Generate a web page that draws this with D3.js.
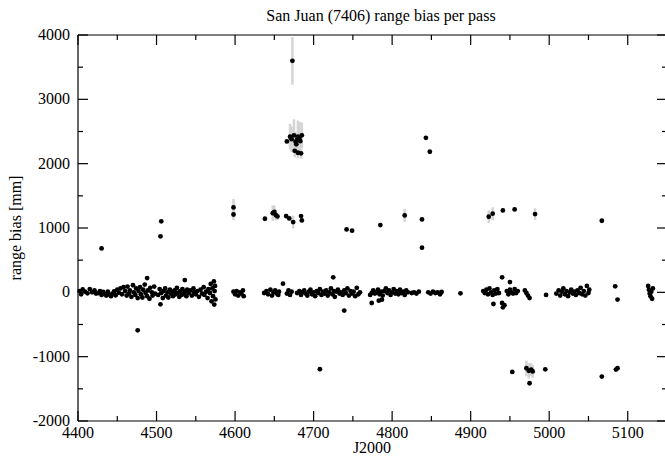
<!DOCTYPE html>
<html lang="en">
<head>
<meta charset="utf-8">
<title>San Juan range bias</title>
<script src="https://d3js.org/d3.v7.min.js"></script>
<style>
  body { margin: 0; background: #fff; }
  svg text { font-family: "Liberation Serif", "Times New Roman", serif; fill: #000; }
  .frame line { stroke: #000; stroke-width: 1.2px; }
  .bar { stroke: #d4d4d4; stroke-width: 2.5px; }
  .pt { fill: #000; }
</style>
</head>
<body>
<script>
const w = 665, h = 459;
const plotLeft = 78, plotRight = 667, plotTop = 35, plotBottom = 421;

const chartTitle = "San Juan (7406) range bias per pass";
const xLabel = "J2000";
const yLabel = "range bias [mm]";
const xTicks = [4400, 4500, 4600, 4700, 4800, 4900, 5000, 5100];
const yTicks = [-2000, -1000, 0, 1000, 2000, 3000, 4000];

// passes near zero: [J2000 day, bias mm]
const bandA = [[4402,20],[4404,-30],[4406,45],[4409,10],[4412,-15],[4415,50],[4418,0],[4421,30],[4423,-20],
  [4426,-10],[4428,20],[4430,-40],[4432,5],[4434,-25],[4436,-50],[4438,10],[4440,-35],[4442,-60],[4444,-20],
  [4446,15],[4448,-45],[4450,40],[4452,-5],[4454,60],[4456,-30],[4458,80],[4460,20],[4462,-50],[4463,90],
  [4465,-20],[4466,30],[4468,-70],[4470,110],[4471,0],[4473,-40],[4474,60],[4476,-90],[4477,20],[4479,80],
  [4480,-30],[4482,-80],[4483,40],[4485,120],[4486,-10],[4488,-60],[4489,30],[4491,-100],[4492,70],[4494,0],
  [4495,-50],[4497,90],[4498,-20],[4502,-40],[4504,50],[4506,-10],[4508,-90],[4509,20],[4511,60],[4512,-50],
  [4514,0],[4515,-80],[4517,40],[4518,-20],[4520,10],[4521,-60],[4523,30],[4524,-30],[4526,70],[4527,-10],
  [4529,-70],[4530,20],[4532,-40],[4533,50],[4535,-20],[4536,10],[4538,-60],[4539,40],[4541,-10],[4543,30],
  [4545,-50],[4547,60],[4548,0],[4550,-30],[4552,20],[4554,-70],[4556,40],[4558,-20],[4560,80],[4561,-40],
  [4563,10],[4565,-90],[4566,50],[4568,-10],[4569,130],[4570,-140],[4571,60],[4572,-60],[4573,170],
  [4573.5,-190],[4574,20],[4574.5,100],[4575,-110]];
const bandB = [[4598,10],[4600,-30],[4602,20],[4604,-50],[4606,0],[4608,-20],[4610,30],[4611,-60],
  [4637,-10],[4640,20],[4642,-30],[4645,40],[4647,-50],[4649,0],[4651,30],[4653,-20],[4655,-40],[4656,10],
  [4661,135],[4666,-20],[4668,30],[4670,-40],[4672,10],[4679,-10],[4682,20],[4684,-40],[4686,0],[4688,30],
  [4690,-20],[4692,-50],[4694,10],[4696,40],[4698,-30],[4700,0],[4702,-60],[4704,20],[4706,-10],[4708,50],
  [4710,-40],[4712,10],[4714,-20],[4716,30],[4718,-50],[4720,0],[4722,60],[4724,-30],[4726,20],[4727,-70],
  [4729,10],[4731,40],[4733,-20],[4735,0],[4737,-40],[4739,30],[4741,-10],[4743,60],[4745,-50],[4747,20],
  [4749,-20],[4751,10],[4753,-60],[4755,70],[4757,-30],[4759,0],[4725,233],[4739,-284]];
const bandC = [[4772,-40],[4774,-10],[4776,30],[4778,-20],[4780,0],[4782,40],[4784,-30],[4786,10],[4788,-50],
  [4790,20],[4792,60],[4794,-10],[4796,30],[4798,-40],[4800,0],[4802,50],[4804,-20],[4806,20],[4808,-30],
  [4810,40],[4812,-10],[4814,10],[4816,-40],[4818,30],[4820,0],[4774,-166],[4783,-129],[4787,-114],
  [4825,-10],[4828,0],[4831,-20],[4834,10],[4846,0],[4849,-20],[4852,10],[4855,-10],[4858,0],[4861,-30],
  [4863,5],[4887,-15]];
const bandD = [[4916,20],[4918,-10],[4920,40],[4922,-30],[4924,60],[4926,0],[4928,-40],[4930,30],[4932,-20],
  [4934,50],[4936,-10],[4940,233],[4950,160],[4929,-181],[4940,-166],[4941,-233],[4943,-200],[4946,20],
  [4948,-30],[4950,40],[4952,0],[4954,-20],[4956,50],[4958,-10],[4960,20],[4969,30],[4971,-10],[4973,-50],
  [4975,-90],[4996,-41],[5009,-20],[5012,30],[5014,-50],[5016,10],[5018,60],[5020,-30],[5022,20],[5024,-60],
  [5026,0],[5028,40],[5030,-20],[5032,10],[5034,-40],[5036,30],[5038,-10],[5040,70],[5042,-30],[5044,20],
  [5046,-50],[5048,100],[5050,-10],[5051,40],[5084,93],[5087,-113],[5126,100],[5127,40],[5128,-20],
  [5129,-60],[5130,10],[5131,-100],[5132,60]];

// outlying passes: [J2000 day, bias mm, sigma mm]
const outliers = [[4430,683,20],[4476,-590,20],[4506,1103,20],[4505,870,20],[4488,222,20],[4505,-186,20],
  [4536,191,20],[4598,1320,130],[4598,1210,90],[4638,1144,20],[4648,1230,120],[4650,1250,100],[4652,1200,80],
  [4654,1180,60],[4665,1185,40],[4669,1149,40],[4674,1092,100],[4684,1185,30],[4685,1118,30],[4742,978,20],
  [4749,958,20],[4785,1045,20],[4816,1196,100],[4838,1134,20],[4838,694,20],[4843,2402,20],[4848,2185,20],
  [4673,3598,370],[4666,2345,20],[4670,2420,200],[4672,2380,200],[4675,2440,250],[4677,2340,150],
  [4678,2300,150],[4680,2420,250],[4682,2400,250],[4683,2350,150],[4685,2440,200],[4676,2200,100],
  [4680,2170,80],[4684,2160,80],[4679,2380,100],[4708,-1195,20],[4923,1175,100],[4928,1222,100],
  [4941,1273,20],[4956,1289,20],[4982,1216,90],[5067,1113,20],[4953,-1237,20],[4971,-1180,120],
  [4974,-1220,120],[4977,-1200,100],[4979,-1230,100],[4975,-1413,20],[4995,-1196,20],[5067,-1309,20],
  [5087,-1180,20],[5085,-1200,20]];

const passes = [];
[bandA, bandB, bandC, bandD].forEach(b => b.forEach(d => passes.push({x: d[0], y: d[1], s: 20})));
outliers.forEach(d => passes.push({x: d[0], y: d[1], s: d[2]}));

const x = d3.scaleLinear().domain([4400, 5150]).range([plotLeft, plotRight]);
const y = d3.scaleLinear().domain([-2000, 4000]).range([plotBottom, plotTop]);

const svg = d3.select("body").append("svg").attr("width", w).attr("height", h);

// error bars then points
svg.append("g").selectAll("line").data(passes).join("line")
  .attr("class", "bar")
  .attr("x1", d => x(d.x)).attr("x2", d => x(d.x))
  .attr("y1", d => y(d.y - d.s)).attr("y2", d => y(d.y + d.s));
svg.append("g").selectAll("circle").data(passes).join("circle")
  .attr("class", "pt")
  .attr("cx", d => x(d.x)).attr("cy", d => y(d.y)).attr("r", 2.4);

// frame with inward ticks
const frame = svg.append("g").attr("class", "frame");
const xMinor = d3.range(4450, 5150, 100);
const yMinor = d3.range(-1500, 4000, 1000);
function ticksX(vals, len) {
  vals.forEach(v => {
    frame.append("line").attr("x1", x(v)).attr("x2", x(v)).attr("y1", plotBottom).attr("y2", plotBottom - len);
    frame.append("line").attr("x1", x(v)).attr("x2", x(v)).attr("y1", plotTop).attr("y2", plotTop + len);
  });
}
function ticksY(vals, len) {
  vals.forEach(v => {
    frame.append("line").attr("y1", y(v)).attr("y2", y(v)).attr("x1", plotLeft).attr("x2", plotLeft + len);
    frame.append("line").attr("y1", y(v)).attr("y2", y(v)).attr("x1", plotRight).attr("x2", plotRight - len);
  });
}
ticksX(xTicks, 10); ticksX(xMinor, 5);
ticksY(yTicks, 10); ticksY(yMinor, 5);
frame.append("line").attr("x1", plotLeft).attr("x2", plotRight).attr("y1", plotTop).attr("y2", plotTop);
frame.append("line").attr("x1", plotLeft).attr("x2", plotRight).attr("y1", plotBottom).attr("y2", plotBottom);
frame.append("line").attr("x1", plotLeft).attr("x2", plotLeft).attr("y1", plotTop).attr("y2", plotBottom);
frame.append("line").attr("x1", plotRight).attr("x2", plotRight).attr("y1", plotTop).attr("y2", plotBottom);

// tick labels
svg.append("g").selectAll("text").data(xTicks).join("text")
  .attr("x", d => x(d)).attr("y", plotBottom + 17)
  .attr("text-anchor", "middle").attr("font-size", 16).text(d => d);
svg.append("g").selectAll("text").data(yTicks).join("text")
  .attr("x", plotLeft - 8).attr("y", d => y(d) + 5)
  .attr("text-anchor", "end").attr("font-size", 16).text(d => d);

svg.append("text").attr("x", 381).attr("y", 21).attr("text-anchor", "middle")
  .attr("font-size", 16).text(chartTitle);
svg.append("text").attr("x", 372).attr("y", 453).attr("text-anchor", "middle")
  .attr("font-size", 16).text(xLabel);
svg.append("text").attr("transform", `translate(21,228) rotate(-90)`)
  .attr("text-anchor", "middle").attr("font-size", 16).text(yLabel);
</script>
</body>
</html>
